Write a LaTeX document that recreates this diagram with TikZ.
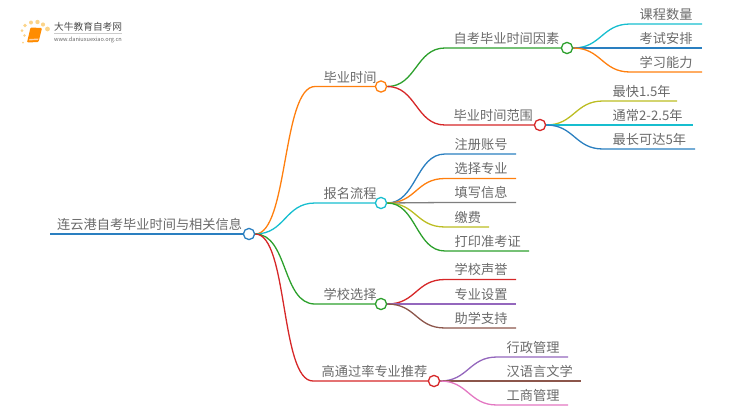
\documentclass[tikz,border=0pt]{standalone}
\usepackage{fontspec}
\setmainfont{Noto Sans CJK SC}
\usetikzlibrary{backgrounds}

% category colours of the branches
\definecolor{cblue}{HTML}{2A7FC0}
\definecolor{corange}{HTML}{FF7F0E}
\definecolor{cgreen}{HTML}{2CA02C}
\definecolor{cred}{HTML}{D62728}
\definecolor{cpurple}{HTML}{9467BD}
\definecolor{cbrown}{HTML}{8C564B}
\definecolor{cpink}{HTML}{E377C2}
\definecolor{cgray}{HTML}{7F7F7F}
\definecolor{colive}{HTML}{BCBD22}
\definecolor{ccyan}{HTML}{17BECF}
\definecolor{ctext}{HTML}{6A6A6A}
\definecolor{cdot}{HTML}{FBD48A}

\tikzset{
    hubdot/.style={circle, draw=#1, fill=white, line width=1.3pt, minimum size=11.2pt, inner sep=0pt},
    lbl/.style={anchor=base west, inner sep=0pt, text=ctext, font=\fontsize{13.2}{13}\selectfont},
    edge/.style={line width=1.3pt}
}

\begin{document}
\begin{tikzpicture}[x=1pt, y=-1pt]
    \useasboundingbox (0,0) rectangle (750,410);

    % 1. The hubs (Nodes)
    \node[hubdot=cblue] (hRoot) at (249,234) {};
    \node[hubdot=corange] (hTime) at (381,86.5) {};
    \node[hubdot=ccyan] (hSign) at (381,203) {};
    \node[hubdot=cgreen] (hSchool) at (381,304) {};
    \node[hubdot=cred] (hPass) at (434,381) {};
    \node[hubdot=cgreen] (hFactor) at (567,48) {};
    \node[hubdot=cred] (hRange) at (540,125) {};

    % 2. The root with its line
    \coordinate (rootStart) at (50,234);
    \node[lbl] (rootText) at (57,229.3) {连云港自考毕业时间与相关信息};
    \begin{scope}[on background layer]
        \draw[edge, cblue, line width=1.8pt] (rootStart) -- (hRoot);
    \end{scope}

    % 3. Branches that end on a hub
    \foreach \name/\from/\to/\kx/\d/\col/\txt in {
        a/hRoot/hTime/315/33/corange/毕业时间,
        b/hRoot/hSign/315/30/ccyan/报名流程,
        c/hRoot/hSchool/315/33/cgreen/学校选择,
        d/hRoot/hPass/313/33/cred/高通过率专业推荐,
        e/hTime/hFactor/445/29/cgreen/自考毕业时间因素,
        f/hTime/hRange/445/29/cred/毕业时间范围}
    {
        \coordinate (\name K) at (\kx,0 |- \to);
        \node[lbl] (\name T) at ([xshift=8.5pt, yshift=4.4pt]\name K) {\txt};
        \begin{scope}[on background layer]
            \draw[edge, \col] (\from.east) to[out=0, in=180, out distance=\d pt, in distance=\d pt] (\name K) -- (\to);
        \end{scope}
    }

    % 4. The leaves: hub / knee x / end x / y
    \foreach \name/\from/\kx/\ex/\y/\d/\col/\txt in {
        l1/hFactor/630/702/24/28/ccyan/课程数量,
        l2/hFactor/630/702/48/28/cblue/考试安排,
        l3/hFactor/630/702/72/28/corange/学习能力,
        l4/hRange/603/677/101/28/colive/最快1.5年,
        l5/hRange/603/693/125/28/ccyan/通常2-2.5年,
        l6/hRange/603/695/149/28/cblue/最长可达5年,
        l7/hSign/445/516/154/29/cblue/注册账号,
        l8/hSign/445/516/178.5/29/corange/选择专业,
        l9/hSign/445/516/202.5/29/cgray/填写信息,
        l10/hSign/445/489/227/29/colive/缴费,
        l11/hSign/445/529/251/29/cgreen/打印准考证,
        l12/hSchool/445/516/279.5/29/cred/学校声誉,
        l13/hSchool/445/516/304/29/cpurple/专业设置,
        l14/hSchool/445/516/328/29/cbrown/助学支持,
        l15/hPass/497/568/357/28/cpurple/行政管理,
        l16/hPass/497/581/381/28/cbrown/汉语言文学,
        l17/hPass/497/568/405/28/cpink/工商管理}
    {
        \coordinate (\name K) at (\kx,\y);
        \coordinate (\name E) at (\ex,\y);
        \node[lbl] (\name T) at (\kx+9.5,\y-4.6) {\txt};
        \begin{scope}[on background layer]
            \draw[edge, \col] (\from.east) to[out=0, in=180, out distance=\d pt, in distance=\d pt] (\name K) -- (\name E);
        \end{scope}
    }

    % 5. The logo
    \foreach \x/\y/\r in {25/25.5/1.9, 31/22.5/2, 37.5/22/2.2, 43/24.5/2.1, 47.5/29/2.4, 22/30.5/1.5, 24.5/35.5/1.3, 23/42.5/1}
        \fill[cdot] (\x,\y) circle (\r);
    \fill[orange!90!yellow, rounded corners=1pt] (30.5,27.5) -- (42,28) -- (38.5,42) -- (27,42.5) -- cycle;
    \fill[orange!35!white] (29.5,39) -- (38.5,38.5) -- (38.1,40) -- (29,40.4) -- cycle;
    \node[anchor=base west, inner sep=0pt, text=black!70, font=\fontsize{9.7}{10}\selectfont] (logoTitle) at (54,30.5) {大牛教育自考网};
    \draw[black!20, line width=0.6pt] (54,33.5) -- (122,33.5);
    \node[anchor=base west, inner sep=0pt, text=black!60, font=\fontsize{5.6}{6}\selectfont] (logoUrl) at (54,41) {www.daniuxuexiao.org.cn};
\end{tikzpicture}
\end{document}
